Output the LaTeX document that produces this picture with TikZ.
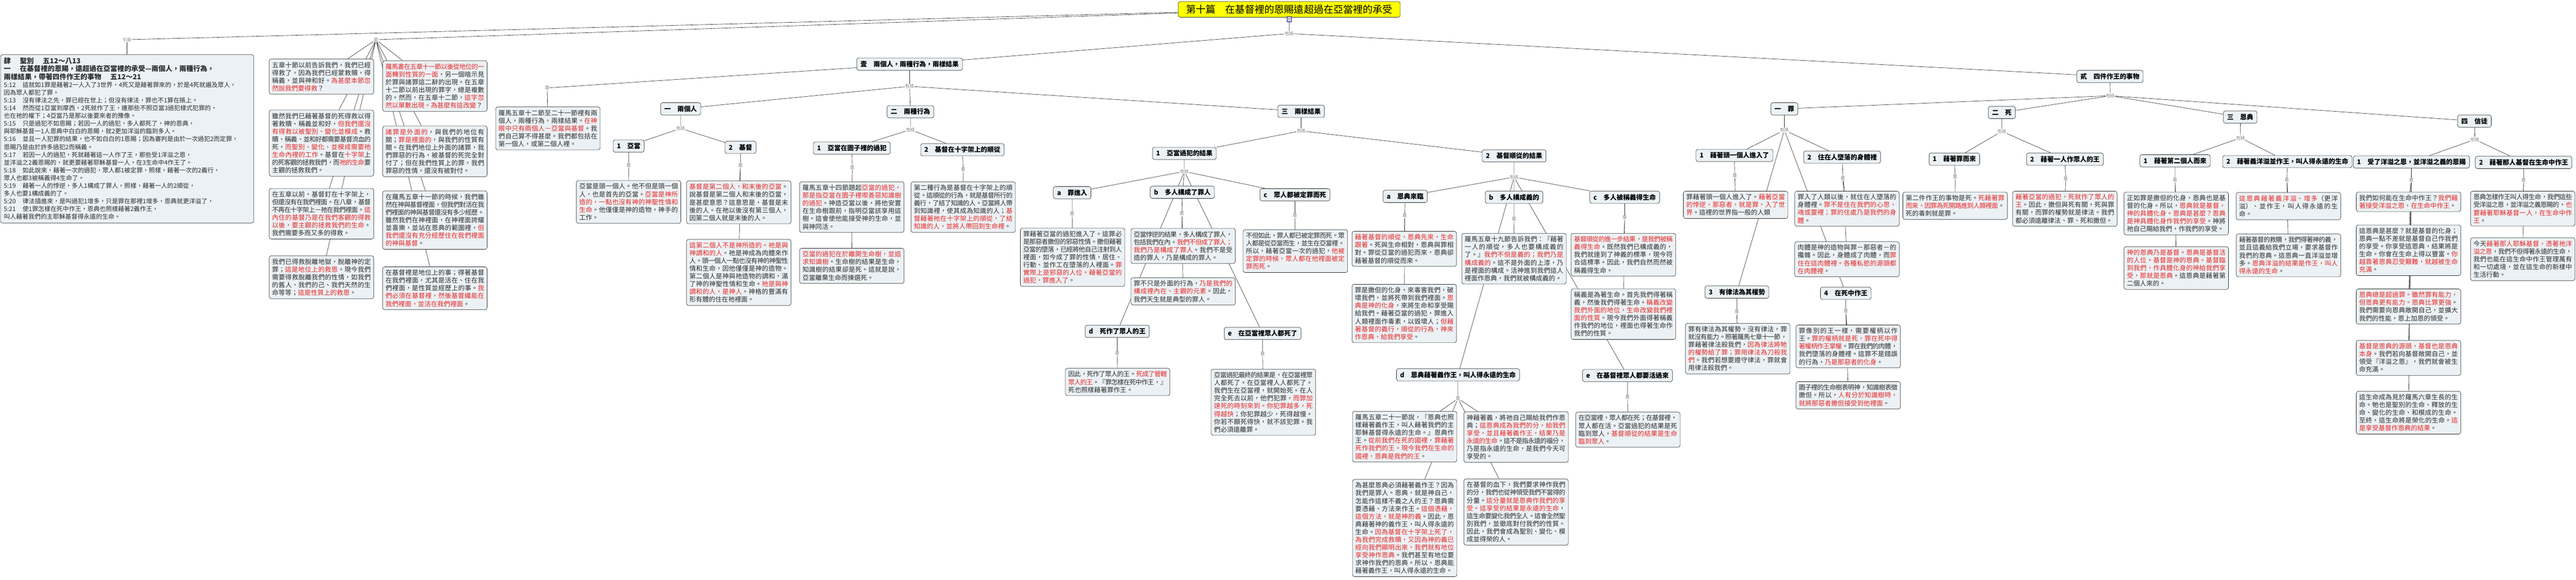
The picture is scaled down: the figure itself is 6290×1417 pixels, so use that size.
\documentclass[tikz,border=0pt]{standalone}
\usepackage{fontspec}
\setmainfont{Noto Sans CJK TC}
\XeTeXlinebreaklocale "zh"
\XeTeXlinebreakskip=0pt plus 2pt minus 1.5pt
\usetikzlibrary{positioning,backgrounds}
\definecolor{boxfill}{RGB}{235,241,244}
\definecolor{redtxt}{RGB}{230,40,40}
\definecolor{bodytxt}{RGB}{45,45,45}
\definecolor{titlefill}{RGB}{255,255,0}
\newcommand{\rd}[1]{\textcolor{redtxt}{#1}}
\tikzset{
  txtbox/.style={draw=black!85, fill=boxfill, rounded corners=5pt, line width=0.8pt,
    text width=241pt, align=justify, inner sep=7pt, text=bodytxt,
    font=\fontsize{15.8}{19}\selectfont},
  headbox/.style={draw=black!85, fill=boxfill, rounded corners=5pt, line width=0.8pt,
    inner xsep=9pt, inner ysep=5pt, minimum height=30pt, text=black,
    font=\fontsize{16}{19}\selectfont\bfseries},
  titlebox/.style={draw=black!85, fill=titlefill, rounded corners=5pt, line width=0.8pt,
    inner xsep=19pt, inner ysep=8pt, font=\fontsize{24}{28}\selectfont},
  noteicon/.style={draw=blue!60!black, fill=white, minimum width=10pt, minimum height=13pt,
    inner sep=0pt, path picture={\foreach \k in {3.5,6.5,9.5}
      \draw[black!60] ([xshift=2pt,yshift=-\k pt]path picture bounding box.north west) -- ++(6pt,0pt);}},
  lab/.style={font=\fontsize{10.5}{12}\selectfont, text=black!55, inner sep=1pt},
  conn/.style={draw=black!85, line width=0.8pt},
}

\begin{document}
\begin{tikzpicture}[x=1pt, y=-1pt]
\useasboundingbox (0,0) rectangle (6290,1417);

% root
\node[titlebox] (t) at (3148,23) {第十篇　在基督裡的恩賜遠超過在亞當裡的承受};
\node[noteicon] (ic) at (3148,47) {};
\node[lab] (l0) at (3148,82) {包括};
\node[lab] (ly) at (310,97) {引自};
\node[lab] (ls) at (918,97) {是};

% the passage
\node[txtbox, text width=602pt, align=left, inner sep=8pt, font=\fontsize{15}{19}\selectfont,
  anchor=north west] (y0) at (1,133) {%
{\bfseries\fontsize{17}{19}\selectfont 肆\hspace{1.3em}聖別\hspace{1.3em}五12～八13}\\
{\bfseries\fontsize{17}{19}\selectfont 一\hspace{1.3em}在基督裡的恩賜，遠超過在亞當裡的承受—兩個人，兩種行為，}\\
{\bfseries\fontsize{17}{19}\selectfont 兩樣結果，帶著四件作王的事物\hspace{1.3em}五12～21}\\
5:12\hspace{1.1em}這就如1罪是藉著2一人入了3世界，4死又是藉著罪來的，於是4死就遍及眾人，\\
因為眾人都犯了罪。\\
5:13\hspace{1.1em}沒有律法之先，罪已經在世上；但沒有律法，罪也不1算在賬上。\\
5:14\hspace{1.1em}然而從1亞當到摩西，2死就作了王，連那些不照亞當3過犯樣式犯罪的，\\
也在祂的權下；4亞當乃是那以後要來者的豫像。\\
5:15\hspace{1.1em}只是過犯不如恩賜；若因一人的過犯，多人都死了，神的恩典，\\
與耶穌基督一1人恩典中白白的恩賜，就2更加洋溢的臨到多人。\\
5:16\hspace{1.1em}並且一人犯罪的結果，也不如白白的1恩賜；因為審判是由於一次過犯2而定罪，\\
恩賜乃是由於許多過犯2而稱義。\\
5:17\hspace{1.1em}若因一人的過犯，死就藉著這一人作了王，那些受1洋溢之恩，\\
並洋溢之2義恩賜的，就更要藉著耶穌基督一人，在3生命中4作王了。\\
5:18\hspace{1.1em}如此說來，藉著一次的過犯，眾人都1被定罪，照樣，藉著一次的2義行，\\
眾人也都3被稱義得4生命了。\\
5:19\hspace{1.1em}藉著一人的悖逆，多人1構成了罪人，照樣，藉著一人的2順從，\\
多人也要1構成義的了。\\
5:20\hspace{1.1em}律法插進來，是叫過犯1增多，只是罪在那裡1增多，恩典就更洋溢了，\\
5:21\hspace{1.1em}使1罪怎樣在死中作王，恩典也照樣藉著2義作王，\\
叫人藉著我們的主耶穌基督得永遠的生命。};

% notes under the root
\node[txtbox, anchor=north west] (a1) at (657,144) {五章十節以前告訴我們，我們已經得救了，因為我們已經蒙救贖，得稱義，並與神和好。\rd{為甚麼本節忽然說我們要得救}？};
\node[txtbox, below=38pt of a1] (a2) {雖然我們已藉著基督的死得救以得著救贖、稱義並和好，\rd{但我們還沒有得救以被聖別、變化並模成}。救贖、稱義、並和好都需要基督流血的死，\rd{而聖別、變化、並模成需要祂生命內裡的工作}。基督在\rd{十字架}上的死客觀的拯救我們，而\rd{祂的生命}要主觀的拯救我們。};
\node[txtbox, below=29pt of a2] (a3) {在五章以前，基督釘在十字架上，但還沒有在我們裡面。在八章，基督不再在十字架上－祂在我們裡面。\rd{這內住的基督乃是在我們客觀的得救以後，要主觀的拯救我們的生命}。我們需要多而又多的得救。};
\node[txtbox, below=40pt of a3] (a4) {我們已得救脫離地獄，脫離神的定罪；\rd{這是地位上的救恩}。現今我們需要得救脫離我們的性情，如我們的舊人、我們的己、我們天然的生命等等；\rd{這是性質上的救恩}。};
\node[txtbox, anchor=north west] (b1) at (934,148) {\rd{羅馬書在五章十一節以後從地位的一面轉到性質的一面}，另一個暗示見於罪與諸罪這二辭的出現。在五章十二節以前出現的罪字，總是複數的。然而，在五章十二節，\rd{這字忽然以單數出現。為甚麼有這改變}？};
\node[txtbox, below=35pt of b1] (b2) {\rd{諸罪是外面的}，與我們的地位有關；\rd{罪是裡面的}，與我們的性質有關。在我們地位上外面的諸罪，我們罪惡的行為，被基督的死完全對付了；但在我們性質上的罪，我們罪惡的性情，還沒有被對付。};
\node[txtbox, below=34pt of b2] (b3) {在羅馬五章十一節的時候，我們雖然在神與基督裡面，但我們對活在我們裡面的神與基督還沒有多少經歷。雖然我們在神裡面，在神裡面誇耀並喜樂，並站在恩典的範圍裡，\rd{但我們還沒有充分經歷住在我們裡面的神與基督}。};
\node[txtbox, below=42pt of b3] (b4) {在基督裡是地位上的事；得著基督在我們裡面，尤其是活在、住在我們裡面，是性質並經歷上的事。\rd{我們必須在基督裡，然後基督纔能在我們裡面，並活在我們裡面}。};

% 壹
\node[headbox] (h1) at (2221,157) {壹　兩個人，兩種行為，兩樣結果};
\node[lab] (q1) at (1336,215) {是};
\node[lab] (p1) at (2221,211) {包括};
\node[txtbox, anchor=north west] (r0) at (1210,261) {羅馬五章十二節至二十一節裡有兩個人，兩種行為，兩樣結果。\rd{在神眼中只有兩個人－亞當與基督}。我們自己算不得甚麼。我們都包括在第一個人，或第二個人裡。};

\node[headbox] (h11) at (1662,266) {一　兩個人};
\node[lab] (p11) at (1662,314) {包括};
\node[headbox] (h111) at (1535,357) {1　亞當};
\node[lab] (q111) at (1535,404) {是};
\node[txtbox, anchor=north west] (x111) at (1407,441) {亞當是頭一個人。他不但是頭一個人，也是首先的亞當。\rd{亞當是神所造的，一點也沒有神的神聖性情和生命}。他僅僅是神的造物，神手的工作。};
\node[headbox] (h112) at (1808,360) {2　基督};
\node[lab] (q112) at (1808,404) {是};
\node[txtbox, anchor=north west] (x112a) at (1676,442) {\rd{基督是第二個人，和末後的亞當}。說基督是第二個人和末後的亞當，是甚麼意思？這意思是，基督是末後的人。在祂以後沒有第三個人，因第二個人就是末後的人。};
\node[txtbox, below=37pt of x112a] (x112b) {\rd{這第二個人不是神所造的。祂是與神調和的人}。祂是神成為肉體來作人。頭一個人一點也沒有神的神聖性情和生命，因他僅僅是神的造物。第二個人是神與祂造物的調和，滿了神的神聖性情和生命。\rd{祂是與神調和的人，是神人}。神格的豐滿有形有體的住在祂裡面。};

\node[headbox] (h12) at (2223,273) {二　兩種行為};
\node[lab] (p12) at (2223,317) {包括};
\node[headbox] (h121) at (2080,362) {1　亞當在園子裡的過犯};
\node[lab] (q121) at (2081,409) {是};
\node[txtbox, anchor=north west] (x121a) at (1952,444) {羅馬五章十四節題起\rd{亞當的過犯，那是指亞當在園子裡喫善惡知識樹的過犯}。神造亞當以後，將他安置在生命樹跟前，指明亞當該享用這樹。這會使他能接受神的生命，並與神同活。};
\node[txtbox, below=38pt of x121a] (x121b) {\rd{亞當的過犯在於離開生命樹，並追求知識樹}。生命樹的結果是生命，知識樹的結果卻是死。這就是說，亞當離棄生命而揀選死。};
\node[headbox] (h122) at (2350,366) {2　基督在十字架上的順從};
\node[lab] (q122) at (2352,415) {是};
\node[txtbox, anchor=north west] (x122) at (2224,444) {第二種行為是基督在十字架上的順從。這順從的行為，就是基督所行的義行，了結了知識的人。亞當將人帶到知識裡，使其成為知識的人；\rd{基督藉著祂在十字架上的順從，了結知識的人，並將人帶回到生命裡}。};

\node[headbox] (h13) at (3177,272) {三　兩樣結果};
\node[lab] (p13) at (3177,320) {包括};
\node[headbox] (h131) at (2892,375) {1　亞當過犯的結果};
\node[lab] (p131) at (2892,419) {包括};
\node[headbox] (h131a) at (2618,471) {a　罪進入};
\node[lab] (q131a) at (2618,523) {是};
\node[txtbox, anchor=north west] (x131a) at (2491,557) {罪藉著亞當的過犯進入了。這罪必是那惡者撒但的邪惡性情。撒但藉著亞當的墮落，已經將他自己注射到人裡面，如今成了罪的性情，居住、行動、並作工在墮落的人裡面。\rd{罪實際上是邪惡的人位。藉著亞當的過犯，罪進入了}。};
\node[headbox] (h131b) at (2887,470) {b　多人構成了罪人};
\node[lab] (q131b) at (2886,522) {是};
\node[txtbox, anchor=north west] (x131b1) at (2761,558) {亞當悖逆的結果，多人構成了罪人，包括我們在內。\rd{我們不但成了罪人；我們乃是構成了罪人}。我們不是受造的罪人，乃是構成的罪人。};
\node[txtbox, below=34pt of x131b1] (x131b2) {罪不只是外面的行為，\rd{乃是我們的構成裡內在、主觀的元素}。因此，我們天生就是典型的罪人。};
\node[headbox] (h131c) at (3162,476) {c　眾人都被定罪而死};
\node[lab] (q131c) at (3162,527) {是};
\node[txtbox, anchor=north west] (x131c) at (3035,561) {不但如此，罪人都已被定罪而死。眾人都是從亞當而生，並生在亞當裡。所以，藉著亞當一次的過犯，\rd{他被定罪的時候，眾人都在他裡面被定罪而死}。};
\node[headbox] (h131d) at (2728,810) {d　死作了眾人的王};
\node[lab] (q131d) at (2728,864) {是};
\node[txtbox, anchor=north west] (x131d) at (2601,900) {因此，死作了眾人的王。\rd{死成了管轄眾人的王}。『罪怎樣在死中作王，』死也照樣藉著罪作王。};
\node[headbox] (h131e) at (3083,815) {e　在亞當裡眾人都死了};
\node[lab] (q131e) at (3083,865) {是};
\node[txtbox, anchor=north west] (x131e) at (2957,902) {亞當過犯最終的結果是，在亞當裡眾人都死了。在亞當裡人人都死了。我們生在亞當裡，就開始死。在人完全死去以前，他們犯罪，\rd{而罪加速死的時刻來到。你犯罪越多，死得越快}；你犯罪越少，死得越慢。你若不願死得快，就不該犯罪。我們必須遠離罪。};

\node[headbox] (h132) at (3697,381) {2　基督順從的結果};
\node[lab] (p132) at (3697,433) {包括};
\node[headbox] (h132a) at (3431,480) {a　恩典來臨};
\node[lab] (q132a) at (3430,527) {是};
\node[txtbox, anchor=north west] (x132a1) at (3301,565) {\rd{藉著基督的順從，恩典先來，生命跟著}。死與生命相對，恩典與罪相對。罪從亞當的過犯而來，恩典卻藉著基督的順從而來。};
\node[txtbox, below=43pt of x132a1] (x132a2) {罪是撒但的化身，來毒害我們，破壞我們，並將死帶到我們裡面。\rd{恩典是神的化身}，來將生命和享受賜給我們。藉著亞當的過犯，罪進入人類裡面作毒素，以毀壞人；\rd{但藉著基督的義行，順從的行為，神來作恩典，給我們享受}。};
\node[headbox] (h132b) at (3697,482) {b　多人構成義的};
\node[lab] (q132b) at (3697,535) {是};
\node[txtbox, anchor=north west] (x132b) at (3569,570) {羅馬五章十九節告訴我們：『藉著一人的順從，多人也要構成義的了。』\rd{我們不但是義的；我們乃是構成義的}。這不是外面的上漆，乃是裡面的構成。活神進到我們這人裡面作恩典，我們就被構成義的。};
\node[headbox] (h132c) at (3967,482) {c　多人被稱義得生命};
\node[lab] (q132c) at (3967,532) {是};
\node[txtbox, anchor=north west] (x132c1) at (3836,570) {\rd{基督順從的進一步結果，是我們被稱義得生命}。既然我們已構成義的，我們就達到了神義的標準，現今符合這標準。因此，我們自然而然被稱義得生命。};
\node[txtbox, below=30pt of x132c1] (x132c2) {稱義是為著生命。首先我們得著稱義，然後我們得著生命。\rd{稱義改變我們外面的地位，生命改變我們裡面的性質}。現今我們外面得著稱義作我們的地位，裡面也得著生命作我們的性質。};
\node[headbox] (h132d) at (3560,916) {d　恩典藉著義作王，叫人得永遠的生命};
\node[lab] (q132d) at (3560,974) {是};
\node[txtbox, anchor=north west] (x132d1) at (3302,1005) {羅馬五章二十一節說，『恩典也照樣藉著義作王，叫人藉著我們的主耶穌基督得永遠的生命。』恩典作王。\rd{從前我們在死的國裡，罪藉著死作我們的王。現今我們在生命的國裡，恩典是我們的王}。};
\node[txtbox, anchor=north west] (x132d2) at (3574,1006) {神藉著義，將祂自己賜給我們作恩典；\rd{這恩典成為我們的分，給我們享受，並且藉著義作王，結果乃是永遠的生命}。這不是指永遠的福分，乃是指永遠的生命，是我們今天可享受的。};
\node[txtbox, below=42pt of x132d1] (x132d3) {為甚麼恩典必須藉著義作王？因為我們是罪人。恩典，就是神自己，怎能作這樣不義之人的王？恩典需要憑藉、方法來作王。\rd{這個憑藉，這個方法，就是神的義}。因此，恩典藉著神的義作王，叫人得永遠的生命。\rd{因為基督在十字架上死了，為我們完成救贖，又因為神的義已經向我們顯明出來，我們就有地位享受神作恩典}。我們甚至有地位要求神作我們的恩典。所以，恩典能藉著義作王，叫人得永遠的生命。};
\node[txtbox, below=40pt of x132d2] (x132d4) {在基督的血下，我們要求神作我們的分，我們也從神領受我們不當得的分量。\rd{這分量就是恩典作我們的享受。這享受的結果是永遠的生命}，這生命要變化我們全人。這會全然聖別我們，並徹底對付我們的性質。因此，我們會成為聖別、變化、模成並得榮的人。};
\node[headbox] (h132e) at (3974,918) {e　在基督裡眾人都要活過來};
\node[lab] (q132e) at (3974,971) {是};
\node[txtbox, anchor=north west] (x132e) at (3847,1007) {在亞當裡，眾人都在死；在基督裡，眾人都在活。亞當過犯的結果是死臨到眾人，\rd{基督順從的結果是生命臨到眾人}。};

% 貳
\node[headbox] (h2) at (5152,187) {貳　四件作王的事物};
\node[lab] (p2) at (5153,234) {包括};

\node[headbox] (h21) at (4357,266) {一　罪};
\node[lab] (p21) at (4357,318) {包括};
\node[headbox] (h211) at (4235,380) {1　藉著頭一個人進入了};
\node[lab] (q211) at (4236,430) {是};
\node[txtbox, anchor=north west] (x211) at (4110,467) {罪藉著頭一個人進入了。\rd{藉著亞當的悖逆，那惡者，就是罪，入了世界}。這裡的世界指一般的人類};
\node[headbox] (h212) at (4498,384) {2　住在人墮落的身體裡};
\node[lab] (q212) at (4500,436) {是};
\node[txtbox, anchor=north west] (x212a) at (4382,467) {罪入了人類以後，就住在人墮落的身體裡。\rd{罪不是住在我們的心思、魂或靈裡；罪的住處乃是我們的身體}。};
\node[txtbox, below=37pt of x212a] (x212b) {肉體是神的造物與罪－那惡者－的攙雜。因此，身體成了肉體，而\rd{罪住在這肉體裡。各種私慾的源頭都在肉體裡}。};
\node[headbox] (h213) at (4241,714) {3　有律法為其權勢};
\node[lab] (q213) at (4241,762) {是};
\node[txtbox, anchor=north west] (x213) at (4115,790) {罪有律法為其權勢。沒有律法，罪就沒有能力。照著羅馬七章十一節，罪藉著律法殺我們，\rd{因為律法將牠的權勢給了罪；罪用律法為刀殺我們}。我們若想要遵守律法，罪就會用律法殺我們。};
\node[headbox] (h214) at (4507,717) {4　在死中作王};
\node[lab] (q214) at (4507,760) {是};
\node[txtbox, anchor=north west] (x214a) at (4385,794) {罪像別的王一樣，需要權柄以作王。\rd{罪的權柄就是死，罪在死中得著權柄作王掌權}。罪在我們的肉體，我們墮落的身體裡。這罪不是錯誤的行為，\rd{乃是那惡者的化身}。};
\node[txtbox, below=33pt of x214a] (x214b) {園子裡的生命樹表明神，知識樹表徵撒但。所以，\rd{人有分於知識樹時，就將那惡者撒但接受到他裡面}。};

\node[headbox] (h22) at (4888,275) {二　死};
\node[lab] (p22) at (4888,321) {包括};
\node[headbox] (h221) at (4772,389) {1　藉著罪而來};
\node[lab] (q221) at (4774,432) {是};
\node[txtbox, anchor=north west] (x221) at (4646,469) {第二件作王的事物是死。\rd{死藉著罪而來，因罪為死開路進到人類裡面}。死的毒刺就是罪。};
\node[headbox] (h222) at (5042,389) {2　藉著一人作眾人的王};
\node[lab] (q222) at (5044,437) {是};
\node[txtbox, anchor=north west] (x222) at (4914,467) {\rd{藉著亞當的過犯，死就作了眾人的王}。因此，撒但與死有關，死與罪有關，而罪的權勢就是律法。我們都必須遠離律法、罪、死和撒但。};

\node[headbox] (h23) at (5470,286) {三　恩典};
\node[lab] (p23) at (5471,337) {包括};
\node[headbox] (h231) at (5311,393) {1　藉著第二個人而來};
\node[lab] (q231) at (5311,440) {是};
\node[txtbox, anchor=north west] (x231a) at (5186,469) {正如罪是撒但的化身，恩典也是基督的化身。所以，\rd{恩典就是基督，神的具體化身。恩典是甚麼？恩典是神具體化身作我們的享受}。神將祂自己賜給我們，作我們的享受。};
\node[txtbox, below=28pt of x231a] (x231b) {\rd{神的恩典乃是基督。恩典是基督活的人位。基督是神的恩典。基督臨到我們，作具體化身的神給我們享受，那就是恩典}。這恩典是藉著第二個人來的。};
\node[headbox] (h232) at (5585,395) {2　藉著義洋溢並作王，叫人得永遠的生命};
\node[lab] (q232) at (5584,440) {是};
\node[txtbox, anchor=north west] (x232a) at (5460,470) {\rd{這恩典藉著義洋溢、增多}（更洋溢）、並作王，叫人得永遠的生命。};
\node[txtbox, below=34pt of x232a] (x232b) {藉著基督的救贖，我們得著神的義，並且這義給我們立場，要求基督作我們的恩典。這恩典一直洋溢並增多。\rd{恩典洋溢的結果是作王，叫人得永遠的生命}。};

\node[headbox] (h24) at (6042,296) {四　信徒};
\node[lab] (p24) at (6043,341) {包括};
\node[headbox] (h241) at (5888,396) {1　受了洋溢之恩，並洋溢之義的恩賜};
\node[lab] (q241) at (5888,441) {是};
\node[txtbox, anchor=north west] (x241a) at (5753,469) {我們如何能在生命中作王？\rd{我們藉著接受洋溢之恩，在生命中作王}。};
\node[txtbox, below=32pt of x241a] (x241b) {這恩典是甚麼？就是基督的化身；恩典一點不差就是基督自己作我們的享受。你享受這恩典，結果將是生命。你會在生命上得以豐富。\rd{你越靠著恩典忍受艱難，就越被生命充滿}。};
\node[txtbox, below=32pt of x241b] (x241c) {\rd{恩典總是超過罪。雖然罪有能力，但恩典更有能力。恩典比罪更強}。我們需要向恩典敞開自己，並擴大我們的性能，恩上加恩的領受。};
\node[txtbox, below=39pt of x241c] (x241d) {\rd{基督是恩典的源頭，基督也是恩典本身}。我們若向基督敞開自己，並領受『洋溢之恩』，我們就會被生命充滿。};
\node[txtbox, below=38pt of x241d] (x241e) {這生命成為見於羅馬六章生長的生命。牠也是聖別的生命、釋放的生命、變化的生命、和模成的生命。至終，這生命將是榮化的生命。\rd{這是享受基督作恩典的結果}。};
\node[headbox] (h242) at (6162,397) {2　藉著那人基督在生命中作王};
\node[lab] (q242) at (6162,441) {是};
\node[txtbox, anchor=north west] (x242a) at (6032,467) {恩典怎樣作王叫人得生命，我們這些受洋溢之恩，並洋溢之義恩賜的，\rd{也要藉著耶穌基督一人，在生命中作王}。};
\node[txtbox, below=28pt of x242a] (x242b) {今天\rd{藉著那人耶穌基督，憑著祂洋溢之恩}，我們不但得著永遠的生命，我們也能在這生命中作王管理萬有和一切處境，並在這生命的新樣中生活行動。};

% connectors
\begin{scope}[on background layer]
\draw[conn] (t) -- (ic) -- (l0) (t) -- (ly) (ly) -- (y0) (t) -- (ls)
  (ls) -- (a1) (ls) -- (a2) (ls) -- (a3) (ls) -- (a4)
  (ls) -- (b1) (ls) -- (b2) (ls) -- (b3) (ls) -- (b4)
  (l0) -- (h1) (l0) -- (h2)
  (h1) -- (q1) -- (r0) (h1) -- (p1)
  (p1) -- (h11) (p1) -- (h12) (p1) -- (h13);
\draw[conn] (h11) -- (p11) (p11) -- (h111) (p11) -- (h112)
  (h111) -- (q111) -- (x111)
  (h112) -- (q112) (q112) -- (x112a) (q112) -- (x112b)
  (h12) -- (p12) (p12) -- (h121) (p12) -- (h122)
  (h121) -- (q121) (q121) -- (x121a) (q121) -- (x121b)
  (h122) -- (q122) -- (x122);
\draw[conn] (h13) -- (p13) (p13) -- (h131) (p13) -- (h132)
  (h131) -- (p131) (p131) -- (h131a) (p131) -- (h131b) (p131) -- (h131c)
  (p131) -- (h131d) (p131) -- (h131e)
  (h131a) -- (q131a) -- (x131a)
  (h131b) -- (q131b) (q131b) -- (x131b1) (q131b) -- (x131b2)
  (h131c) -- (q131c) -- (x131c)
  (h131d) -- (q131d) -- (x131d)
  (h131e) -- (q131e) -- (x131e);
\draw[conn] (h132) -- (p132) (p132) -- (h132a) (p132) -- (h132b) (p132) -- (h132c)
  (p132) -- (h132d) (p132) -- (h132e)
  (h132a) -- (q132a) (q132a) -- (x132a1) (q132a) -- (x132a2)
  (h132b) -- (q132b) -- (x132b)
  (h132c) -- (q132c) (q132c) -- (x132c1) (q132c) -- (x132c2)
  (h132d) -- (q132d) (q132d) -- (x132d1) (q132d) -- (x132d2) (q132d) -- (x132d3) (q132d) -- (x132d4)
  (h132e) -- (q132e) -- (x132e);
\draw[conn] (h2) -- (p2) (p2) -- (h21) (p2) -- (h22) (p2) -- (h23) (p2) -- (h24)
  (h21) -- (p21) (p21) -- (h211) (p21) -- (h212) (p21) -- (h213) (p21) -- (h214)
  (h211) -- (q211) -- (x211)
  (h212) -- (q212) (q212) -- (x212a) (q212) -- (x212b)
  (h213) -- (q213) -- (x213)
  (h214) -- (q214) (q214) -- (x214a) (q214) -- (x214b)
  (h22) -- (p22) (p22) -- (h221) (p22) -- (h222)
  (h221) -- (q221) -- (x221)
  (h222) -- (q222) -- (x222);
\draw[conn] (h23) -- (p23) (p23) -- (h231) (p23) -- (h232)
  (h231) -- (q231) (q231) -- (x231a) (q231) -- (x231b)
  (h232) -- (q232) (q232) -- (x232a) (q232) -- (x232b)
  (h24) -- (p24) (p24) -- (h241) (p24) -- (h242)
  (h241) -- (q241) (q241) -- (x241a) (q241) -- (x241b) (q241) -- (x241c) (q241) -- (x241d) (q241) -- (x241e)
  (h242) -- (q242) (q242) -- (x242a) (q242) -- (x242b);
\end{scope}
\end{tikzpicture}
\end{document}
